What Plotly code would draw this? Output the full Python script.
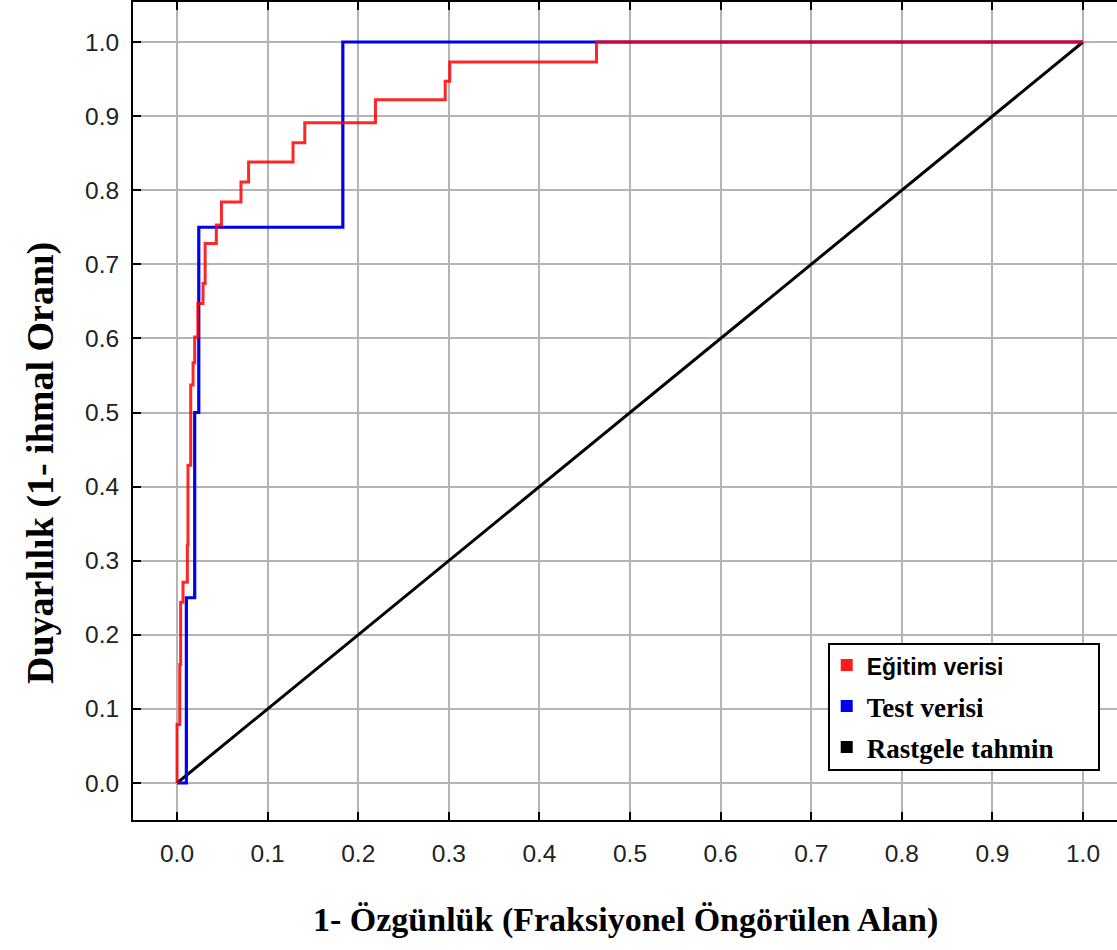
import plotly.graph_objects as go

# ROC points (1 - specificity, sensitivity)
train_fpr = [0, 0.003, 0.004, 0.0066, 0.0114, 0.0121, 0.0151, 0.0177, 0.0195, 0.023, 0.0287,
             0.031, 0.0434, 0.049, 0.0706, 0.079, 0.128, 0.141, 0.219, 0.296, 0.301, 0.463, 1.0]
train_tpr = [0, 0.079, 0.16, 0.244, 0.271, 0.321, 0.429, 0.537, 0.567, 0.602, 0.647,
             0.674, 0.728, 0.753, 0.784, 0.811, 0.838, 0.864, 0.891, 0.922, 0.947, 0.973, 1.0]

test_fpr = [0, 0.0103, 0.0195, 0.024, 0.183, 1.0]
test_tpr = [0, 0.25, 0.5, 0.75, 1.0, 1.0]

random_fpr = [0, 1]
random_tpr = [0, 1]

tick_vals = [0, 0.1, 0.2, 0.3, 0.4, 0.5, 0.6, 0.7, 0.8, 0.9, 1.0]
tick_text = ["0.0", "0.1", "0.2", "0.3", "0.4", "0.5", "0.6", "0.7", "0.8", "0.9", "1.0"]

names = ['<span style="font-family:Liberation Sans;font-size:23px">Eğitim verisi</span>',
         "Test verisi", "Rastgele tahmin"]
colors = ["#ff1a1a", "#0000ee", "#000000"]

x_title = "1- Özgünlük (Fraksiyonel Öngörülen Alan)"
y_title = "Duyarlılık (1- ihmal Oranı)"

fig = go.Figure()
fig.add_trace(go.Scatter(x=random_fpr, y=random_tpr, mode="lines",
                         line=dict(color="black", width=3), showlegend=False))
fig.add_trace(go.Scatter(x=test_fpr, y=test_tpr, mode="lines", line_shape="hv",
                         line=dict(color="#0000ee", width=3.2), showlegend=False))
fig.add_trace(go.Scatter(x=train_fpr, y=train_tpr, mode="lines", line_shape="vh",
                         line=dict(color="rgba(255,0,0,0.85)", width=3), showlegend=False))

for i, (n, c) in enumerate(zip(names, colors)):
    fig.add_trace(go.Scatter(x=[None], y=[None], mode="markers", name=n,
                             legendgroup=str(i),
                             marker=dict(symbol="square", size=12, color=c)))

axis_font = dict(family="Liberation Sans", size=24.5, color="#222222")

fig.update_layout(
    width=1117, height=950,
    margin=dict(l=133, r=0, t=2, b=130),
    paper_bgcolor="white", plot_bgcolor="white",
    showlegend=True,
    legend=dict(x=0.705, y=0.219, xanchor="left", yanchor="top",
                bgcolor="rgba(0,0,0,0)", borderwidth=0,
                font=dict(family="Liberation Serif", size=27, color="black", weight="bold"),
                traceorder="grouped", tracegroupgap=3, itemsizing="constant"),
    xaxis=dict(range=[-0.0486, 1.0375], tickvals=tick_vals, ticktext=tick_text,
               ticks="inside", ticklen=8, tickwidth=2, tickcolor="black",
               showline=True, linecolor="black", linewidth=2, mirror="ticks",
               showgrid=True, gridcolor="#b4b4b4", gridwidth=1.5, zeroline=False,
               tickfont=axis_font, ticklabelstandoff=11),
    yaxis=dict(range=[-0.0499, 1.054], tickvals=tick_vals, ticktext=tick_text,
               ticks="inside", ticklen=8, tickwidth=2, tickcolor="black",
               showline=True, linecolor="black", linewidth=2, mirror=False,
               showgrid=True, gridcolor="#b4b4b4", gridwidth=1.5, zeroline=False,
               tickfont=axis_font, ticklabelstandoff=7),
    shapes=[dict(type="rect", xref="paper", yref="paper",
                 x0=0.7073, x1=0.9817, y0=0.0611, y1=0.2152,
                 line=dict(color="black", width=2), fillcolor="white", layer="above")],
    annotations=[
        dict(text=x_title, xref="paper", yref="paper", x=0.5, y=-0.1222,
             xanchor="center", yanchor="middle", showarrow=False,
             font=dict(family="Liberation Serif", size=34, color="black", weight="bold")),
        dict(text=y_title, xref="paper", yref="paper", x=-0.0945, y=0.4364,
             xanchor="center", yanchor="middle", showarrow=False, textangle=-90,
             font=dict(family="Liberation Serif", size=38, color="black", weight="bold")),
    ],
)

fig.write_html("out.html")
